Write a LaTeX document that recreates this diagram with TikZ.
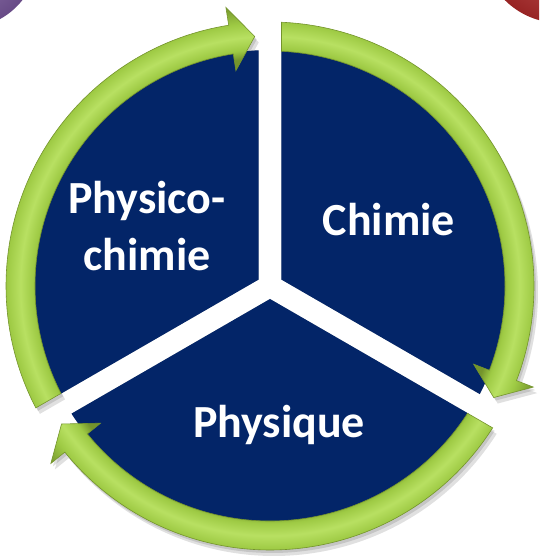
\documentclass[tikz,border=0pt]{standalone}
\usepackage{fontspec}
\setmainfont{Carlito}
\usetikzlibrary{calc}
\definecolor{navyfill}{RGB}{3,37,104}
\definecolor{bandlight}{RGB}{184,224,98}
\definecolor{bandmid}{RGB}{158,202,68}
\definecolor{banddark}{RGB}{116,148,44}
\definecolor{discpurple}{RGB}{122,88,158}
\definecolor{discred}{RGB}{178,42,42}
\pgfdeclareradialshading{bandshade}{\pgfpoint{0bp}{0bp}}{color(0bp)=(banddark); color(20bp)=(banddark); color(20.8bp)=(bandmid); color(21.9bp)=(bandlight); color(23.1bp)=(bandmid); color(24.8bp)=(banddark); color(50bp)=(banddark)}
% one curved arrow outside the sector centred on angle #1
\newcommand{\bandpath}[1]{(#1+57.5:264) arc[start angle=#1+57.5, end angle=#1-51, radius=264] -- (#1-51:282) -- (#1-56.5:250) -- (#1-51:218) -- (#1-51:235) arc[start angle=#1-51, end angle=#1+57.2, radius=235] -- cycle}
\newcommand{\sectorpath}[1]{($(C)+(#1:13)$) -- ($(C)+(#1+57.26:236)$) arc[start angle=#1+57.26, end angle=#1-57.26, radius=236] -- cycle}

\begin{document}
\begin{tikzpicture}[
    x=1pt, y=1pt,
    sectorfill/.style={fill=navyfill},
    bandedge/.style={draw=banddark, line width=0.6pt},
    shadowfill/.style={fill=black, opacity=0.12},
    sectortext/.style={text=white, font=\fontsize{46}{57}\selectfont\bfseries, align=center, inner sep=0pt}
]
    \useasboundingbox (0,0) rectangle (539,556);
    \clip (0,0) rectangle (539,556);
    \coordinate (C) at (270,270);

    % neighbouring discs, cut by the page
    \shade[inner color=discpurple!75!white, outer color=discpurple!85!black] (-35,601) circle[radius=73];
    \shade[inner color=discred!75!white, outer color=discred!85!black] (560,611) circle[radius=78];

    % shadows
    \foreach \s in {2,4}{
        \foreach \a in {150,30,270}{
            \fill[shadowfill, shift={(\s,-1.5*\s)}] \sectorpath{\a};
            \begin{scope}[shift={(C)}]
                \fill[shadowfill, shift={(\s,-1.5*\s)}] \bandpath{\a};
            \end{scope}
        }
    }

    % sectors
    \foreach \a in {150,30,270}{
        \fill[sectorfill] \sectorpath{\a};
    }

    % arrows
    \begin{scope}[shift={(C)}]
        \foreach \a in {150,30,270}{
            \begin{scope}
                \clip \bandpath{\a};
                \shade[shading=bandshade] (0,0) circle[radius=285];
            \end{scope}
            \draw[bandedge] \bandpath{\a};
        }
    \end{scope}

    \node[sectortext] (phc) at (147,330) {Physico-\\chimie};
    \node[sectortext, anchor=base] (chi) at (389,320) {Chimie};
    \node[sectortext, anchor=base] (phy) at (279,118) {Physique};
\end{tikzpicture}
\end{document}
